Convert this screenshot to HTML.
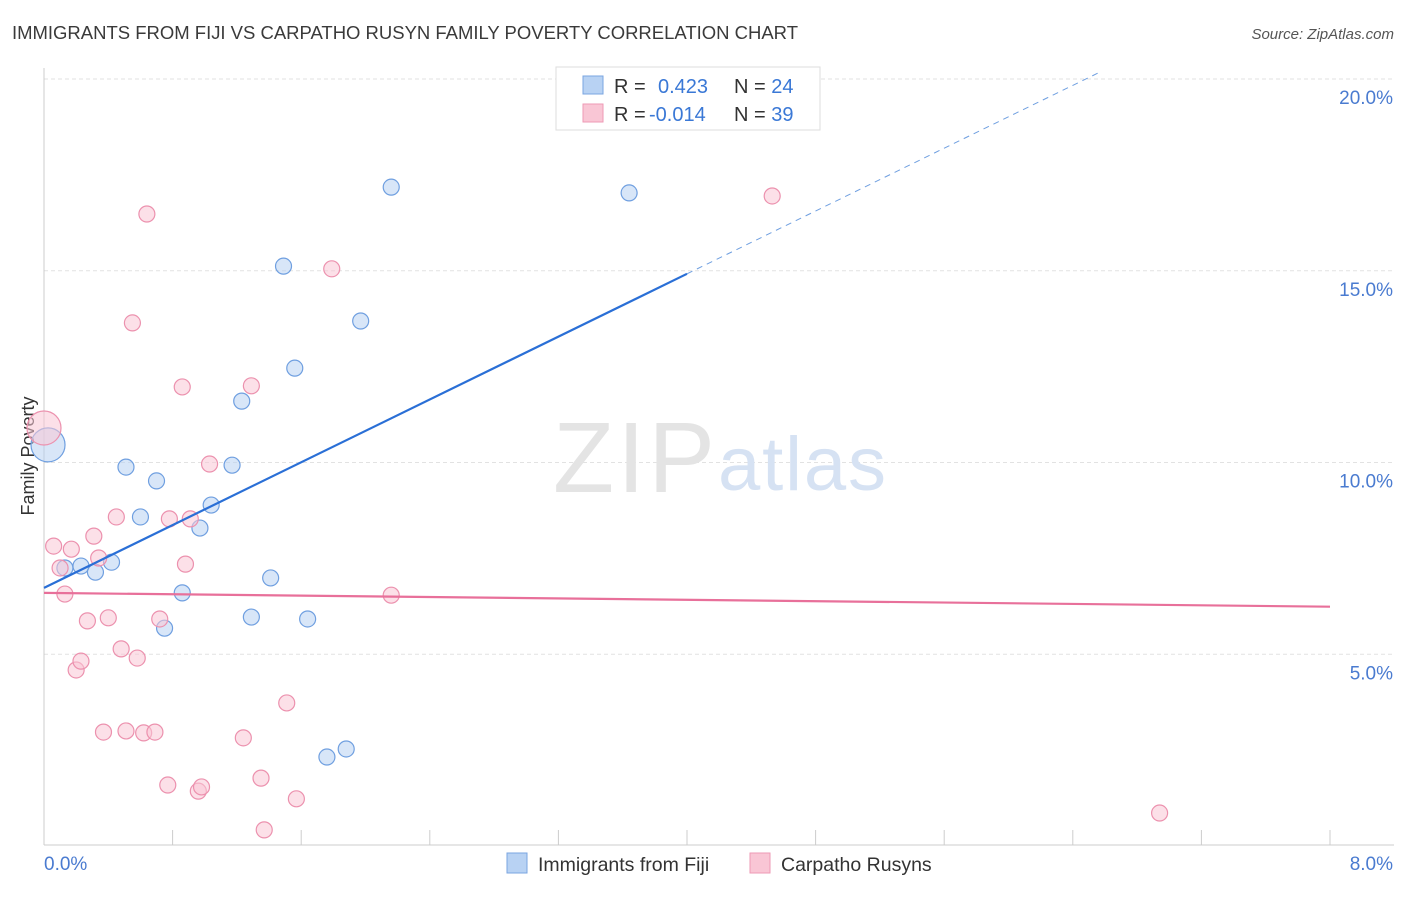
<!DOCTYPE html>
<html><head><meta charset="utf-8"><style>
body{margin:0;background:#fff;font-family:"Liberation Sans",sans-serif;}
svg text{font-family:"Liberation Sans",sans-serif;}
</style></head><body>
<svg id="chart" width="1406" height="892">
<text x="12" y="39" font-size="18.5" fill="#3a3a3a" textLength="786">IMMIGRANTS FROM FIJI VS CARPATHO RUSYN FAMILY POVERTY CORRELATION CHART</text>
<text x="1394" y="39" font-size="15" fill="#555" font-style="italic" text-anchor="end">Source: ZipAtlas.com</text>
<g id="grid"></g>
<g id="axes"></g>
<text x="553" y="492" font-size="100" fill="#e4e4e4" font-family="Liberation Serif" textLength="162">ZIP</text>
<text x="718" y="490" font-size="76" fill="#d6e2f3" textLength="168">atlas</text>
<text transform="translate(34,456) rotate(-90)" font-size="18" fill="#333" text-anchor="middle">Family Poverty</text>
<g id="marks"></g>
<g>
<rect x="556" y="67" width="264" height="63" fill="#fff" stroke="#ddd"/>
<rect x="583" y="76" width="20" height="18" fill="#b8d2f3" stroke="#7aa5e0"/>
<rect x="583" y="104" width="20" height="18" fill="#f9c6d5" stroke="#ee9ab5"/>
<text x="614" y="93" font-size="20" fill="#333">R = <tspan x="658" fill="#3a78d6">0.423</tspan><tspan x="734">N = </tspan><tspan fill="#3a78d6">24</tspan></text>
<text x="614" y="121" font-size="20" fill="#333">R = <tspan x="649" fill="#3a78d6">-0.014</tspan><tspan x="734">N = </tspan><tspan fill="#3a78d6">39</tspan></text>
</g>
<g>
<rect x="507" y="853" width="20" height="20" fill="#b8d2f3" stroke="#7aa5e0"/>
<text x="538" y="871" font-size="19.5" fill="#333">Immigrants from Fiji</text>
<rect x="750" y="853" width="20" height="20" fill="#f9c6d5" stroke="#ee9ab5"/>
<text x="781" y="871" font-size="19.5" fill="#333">Carpatho Rusyns</text>
</g>
</svg>
<script>
const fijiX=[0.025,0.13,0.23,0.32,0.42,0.51,0.60,0.70,0.75,0.86,0.97,1.04,1.17,1.23,1.29,1.41,1.49,1.56,1.64,1.76,1.88,1.97,2.16,3.64];
const fijiY=[10.46,7.25,7.3,7.14,7.4,9.88,8.58,9.52,5.68,6.6,8.29,8.89,9.93,11.6,5.97,6.99,15.12,12.46,5.92,2.32,2.53,13.69,17.18,17.03];
const rusynX=[0.0,0.06,0.10,0.13,0.17,0.20,0.23,0.27,0.31,0.34,0.37,0.40,0.45,0.48,0.51,0.55,0.58,0.62,0.64,0.69,0.72,0.77,0.78,0.86,0.88,0.91,0.96,0.98,1.03,1.24,1.29,1.35,1.37,1.51,1.57,1.79,2.16,4.53,6.94];
const rusynY=[10.9,7.82,7.25,6.57,7.74,4.59,4.82,5.87,8.08,7.51,2.97,5.95,8.58,5.14,3.0,13.64,4.9,2.95,16.48,2.97,5.92,1.59,8.53,11.97,7.35,8.53,1.43,1.54,9.96,2.82,12.0,1.77,0.42,3.73,1.23,15.05,6.54,16.95,0.86];
const fijiTrend=[6.73,14.92]; // at x=0 and x=4
const rusynTrend=[6.6,6.24]; // at x=0 and x=8
const yTicks=[5,10,15,20];
const yTickLabels=["5.0%","10.0%","15.0%","20.0%"];
const xTickLabels=["0.0%","8.0%"];
const NS="http://www.w3.org/2000/svg";
const sx=v=>44+v*160.75, sy=v=>846-v*38.35;
function mk(p,t,a){const e=document.createElementNS(NS,t);for(const k in a)e.setAttribute(k,a[k]);p.appendChild(e);return e;}
const grid=document.getElementById('grid'),axes=document.getElementById('axes'),marks=document.getElementById('marks');
yTicks.forEach((t,i)=>{
 const l=mk(grid,'line',{x1:44,x2:1394,y1:sy(t),y2:sy(t),stroke:'#e2e2e2','stroke-dasharray':'4,3'});
 
 
 const tx=mk(axes,'text',{x:1393,y:sy(t)+25,'font-size':19,fill:'#4a7bd0','text-anchor':'end'});tx.textContent=yTickLabels[i];
 
 
});
const ax=mk(axes,'line',{x1:44,x2:1394,y1:845,y2:845,stroke:'#ccc'});


const ay=mk(axes,'line',{x1:44,x2:44,y1:68,y2:845,stroke:'#ccc'});


for(let i=0;i<=10;i++){const t=mk(axes,'line',{x1:sx(i*0.8),x2:sx(i*0.8),y1:830,y2:845,stroke:'#ccc'});
 
 }
[[0,'start'],[8,'end']].forEach((d,i)=>{const t=mk(axes,'text',{x:d[0]?1393:44,y:870,'font-size':19,fill:'#4a7bd0','text-anchor':d[1]});t.textContent=xTickLabels[i];
 
 });
function dots(X,Y,fill,stroke,name){X.forEach((x,i)=>{const big=i===0&&x<0.05;
 const c=mk(marks,'circle',{cx:sx(x),cy:sy(Y[i]),r:big?17:8,fill,stroke,'stroke-width':1.2,'fill-opacity':0.55});
 
 });}
dots(fijiX,fijiY,'#b8d2f3','#6f9fe0','fiji-point');
dots(rusynX,rusynY,'#f9c6d5','#ec91ae','rusyn-point');
const fy=x=>fijiTrend[0]+(fijiTrend[1]-fijiTrend[0])*x/4;
const l1=mk(marks,'line',{x1:sx(0),y1:sy(fy(0)),x2:sx(4),y2:sy(fy(4)),stroke:'#2a6fd6','stroke-width':2.2});


const xe=(20.2-fijiTrend[0])/((fijiTrend[1]-fijiTrend[0])/4);
const l2=mk(marks,'line',{x1:sx(4),y1:sy(fy(4)),x2:sx(xe),y2:sy(fy(xe)),stroke:'#6f9fe0','stroke-width':1,'stroke-dasharray':'6,5'});


const l3=mk(marks,'line',{x1:sx(0),y1:sy(rusynTrend[0]),x2:sx(8),y2:sy(rusynTrend[1]),stroke:'#e8709a','stroke-width':2.2});


</script>
</body></html>
